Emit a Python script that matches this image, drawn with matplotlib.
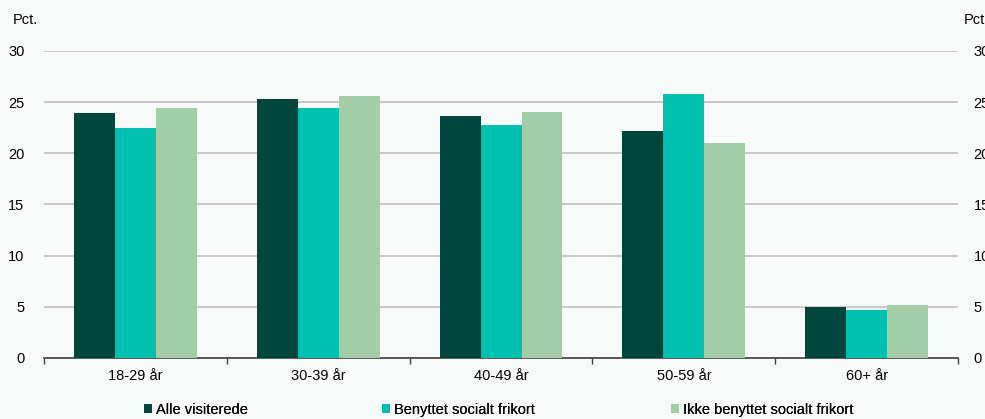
import matplotlib.pyplot as plt
import numpy as np

plt.rcParams['font.family'] = ['Liberation Sans', 'DejaVu Sans']

categories = ['18-29 år', '30-39 år', '40-49 år', '50-59 år', '60+ år']
alle = [23.9, 25.3, 23.6, 22.2, 5.0]
benyttet = [22.5, 24.4, 22.8, 25.8, 4.7]
ikke_benyttet = [24.4, 25.6, 24.0, 21.0, 5.2]
series_names = ['Alle visiterede', 'Benyttet socialt frikort', 'Ikke benyttet socialt frikort']
colors = ['#00463d', '#00c1b0', '#a3cda6']
bg = '#f8f9f9'

fig = plt.figure(figsize=(9.85, 4.19), dpi=100, facecolor=bg)
ax = fig.add_axes([0.0447, 0.1456, 0.928, 0.7327], facecolor=bg)

x = np.arange(len(categories)) + 0.5
w = 0.224
bars = []
for i, (vals, name, c) in enumerate(zip([alle, benyttet, ikke_benyttet], series_names, colors)):
    bars.append(ax.bar(x + (i - 1) * w, vals, width=w, color=c, label=name, zorder=3))

ax.set_xlim(0, len(categories))
ax.set_ylim(0, 30)
ax.set_yticks(range(0, 31, 5))
ax.grid(axis='y', color='#c0c0c0', linewidth=1.2, zorder=0)

# category boundaries as ticks, labels centred in each category
ax.set_xticks(np.arange(len(categories) + 1))
ax.set_xticklabels([])
ax.set_xticks(x, minor=True)
ax.set_xticklabels(categories, minor=True, fontsize=10.5)
ax.tick_params(axis='x', which='major', length=4, color='#404040', width=1)
ax.tick_params(axis='x', which='minor', length=0, pad=8)
ax.tick_params(axis='y', length=0, labelsize=10.5, pad=14)

for s in ['left', 'right', 'top']:
    ax.spines[s].set_visible(False)
ax.spines['bottom'].set_color('#404040')
ax.spines['bottom'].set_linewidth(1.2)

ax2 = ax.twinx()
ax2.set_ylim(0, 30)
ax2.set_yticks(range(0, 31, 5))
ax2.tick_params(axis='y', length=0, labelsize=10.5, pad=11)
for s in ['left', 'right', 'top', 'bottom']:
    ax2.spines[s].set_visible(False)

fig.text(0.013, 0.952, 'Pct.', fontsize=10.5, va='center')
fig.text(0.978, 0.952, 'Pct.', fontsize=10.5, va='center')

# one legend per entry so each sits at its own position
for b, name, lx in zip(bars, series_names, [144, 382, 671]):
    leg = fig.legend([b], [name], loc='center left', bbox_to_anchor=(lx / 985, 0.022),
                     frameon=False, fontsize=10.5, handlelength=0.55, handleheight=0.55,
                     handletextpad=0.28, borderpad=0, borderaxespad=0)
    fig.add_artist(leg)

fig.savefig('out.png', dpi=100, facecolor=bg)
